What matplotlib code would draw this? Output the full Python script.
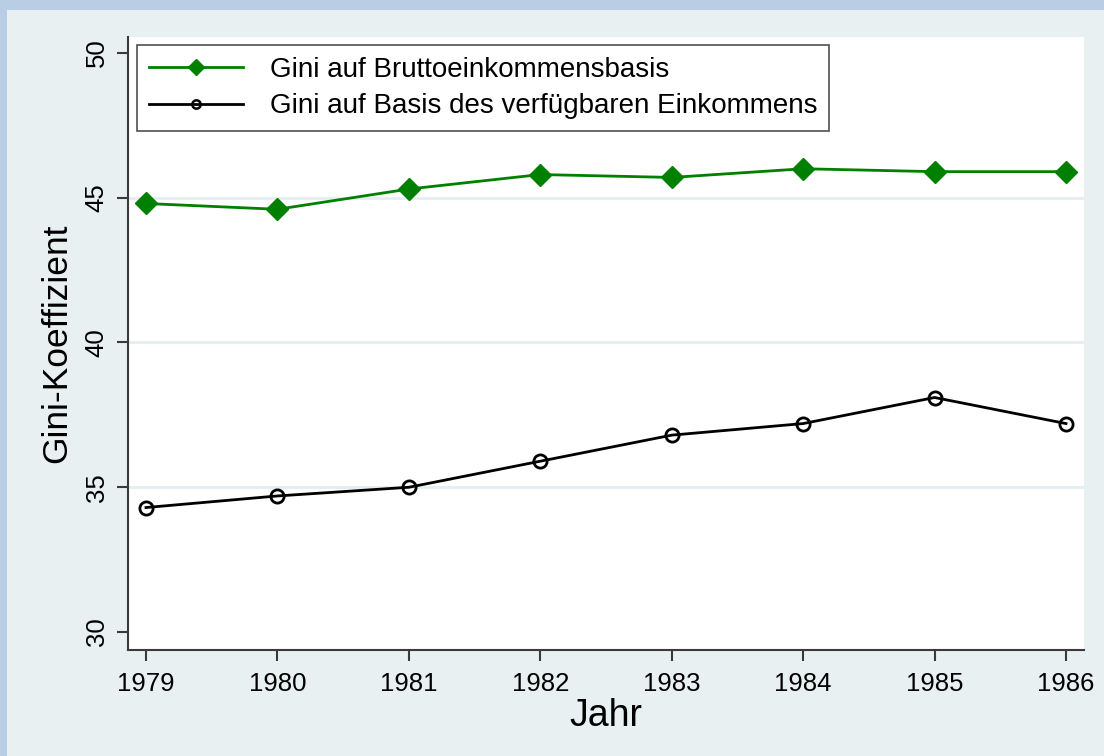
import matplotlib
matplotlib.use("Agg")
import matplotlib.pyplot as plt
from matplotlib.patches import Rectangle

plt.rcParams['font.family'] = ['Liberation Sans', 'DejaVu Sans']

# Data
years = [1979, 1980, 1981, 1982, 1983, 1984, 1985, 1986]
gini_brutto = [44.8, 44.6, 45.3, 45.8, 45.7, 46.0, 45.9, 45.9]
gini_verfuegbar = [34.3, 34.7, 35.0, 35.9, 36.8, 37.2, 38.1, 37.2]
y_ticks = [30, 35, 40, 45, 50]
label_brutto = "Gini auf Bruttoeinkommensbasis"
label_verf = "Gini auf Basis des verfügbaren Einkommens"

fig = plt.figure(figsize=(11.04, 7.56), dpi=100)
fig.patch.set_facecolor('#b9cde4')
# inner light panel, behind the axes
panel = Rectangle((7 / 1104, 0), 1, 1 - 10 / 756, transform=fig.transFigure,
                  facecolor='#e8f0f2', edgecolor='none', zorder=-10)
fig.add_artist(panel)

ax = fig.add_axes([128 / 1104, 1 - 650 / 756, (1084 - 128) / 1104, (650 - 37) / 756])
ax.set_zorder(5)
ax.set_facecolor('white')

for y in [35, 40, 45]:
    ax.axhline(y, color='#e6eef1', lw=2, zorder=1)

ax.plot(years, gini_brutto, color='#008000', lw=2, marker='D', markersize=11,
        markerfacecolor='#008000', markeredgecolor='#008000', label=label_brutto, zorder=3)
ax.plot(years, gini_verfuegbar, color='black', lw=2, marker='o', markersize=9.5,
        markerfacecolor='none', markeredgecolor='black', markeredgewidth=2,
        label=label_verf, zorder=3)

ax.set_xlim(1978.863, 1986.137)
ax.set_ylim(29.38, 50.55)
ax.set_xticks(years)
ax.set_xticklabels([str(y) for y in years])
ax.set_yticks(y_ticks)
ax.set_yticklabels([str(y) for y in y_ticks], rotation=90, va='center')

for s in ['top', 'right']:
    ax.spines[s].set_visible(False)
for s in ['left', 'bottom']:
    ax.spines[s].set_color('#3a3a3a')
    ax.spines[s].set_linewidth(1.5)
ax.tick_params(axis='both', direction='out', length=8, width=1.5, color='#3a3a3a',
               labelsize=18.5)
ax.tick_params(axis='x', pad=8)
ax.tick_params(axis='y', pad=6)

ax.set_xlabel("Jahr", fontsize=27, labelpad=1)
ax.set_ylabel("Gini-Koeffizient", fontsize=25.5, labelpad=8)

leg = ax.legend(loc='upper left', bbox_to_anchor=(9 / 956, 1 - 8 / 613), fontsize=20,
                frameon=True, fancybox=False, edgecolor='#222222', borderpad=0.42,
                borderaxespad=0, handlelength=3.4, labelspacing=0.38, handletextpad=0.95)
leg.get_frame().set_linewidth(1.2)
hd = leg.legend_handles
hd[0].set_markersize(8)
hd[1].set_markersize(6)
hd[1].set_markeredgewidth(1.8)

fig.savefig("out.png", dpi=100, facecolor=fig.get_facecolor())
